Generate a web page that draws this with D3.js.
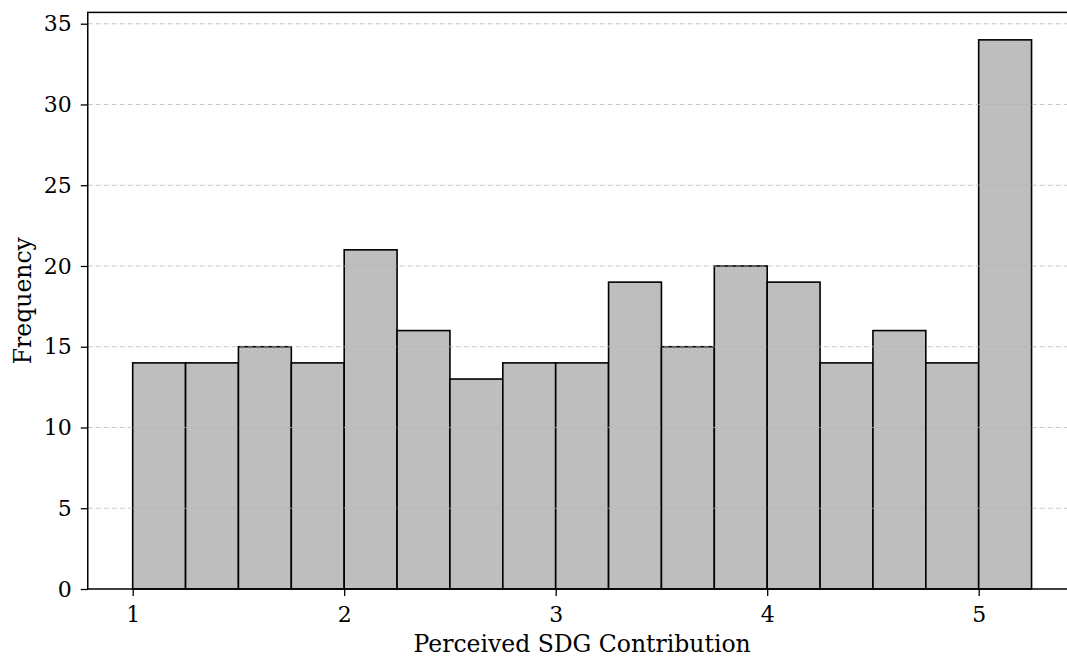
<!DOCTYPE html>
<html><head><meta charset="utf-8">
<script src="https://cdn.jsdelivr.net/npm/d3@7"></script>
<style>body{margin:0;background:#fff;} svg{display:block;}</style>
</head><body>
<svg id="c" width="1067" height="659"></svg>
<script>
const binStart = 1, binWidth = 0.25;
const counts = [14,14,15,14,21,16,13,14,14,19,15,20,19,14,16,14,34];
const xTicks = [1,2,3,4,5];
const yTicks = [0,5,10,15,20,25,30,35];
const xLabel = "Perceived SDG Contribution";
const yLabel = "Frequency";

const bins = counts.map((c,i)=>({x0: binStart + i*binWidth, x1: binStart + (i+1)*binWidth, n: c}));
const svg = d3.select("#c");
const L = 87.75, R = 1076.5, T = 12.4, B = 589;
const xMin = bins[0].x0, xMax = bins[bins.length-1].x1, pad = (xMax - xMin)*0.05;
const x = d3.scaleLinear().domain([xMin - pad, xMax + pad]).range([L, R]);
const yMax = d3.max(counts)*1.05;
const y = d3.scaleLinear().domain([0, yMax]).range([B, T]);
const font = "DejaVu Serif";

svg.append("g").selectAll("rect").data(bins).join("rect")
  .attr("x", d=>x(d.x0)).attr("width", d=>x(d.x1)-x(d.x0))
  .attr("y", d=>y(d.n)).attr("height", d=>y(0)-y(d.n))
  .attr("fill","#bebebe").attr("stroke","#000").attr("stroke-width",1.6);

// grid on top
svg.append("g").selectAll("line").data(yTicks.filter(v=>v>0)).join("line")
  .attr("x1",L).attr("x2",R).attr("y1",d=>y(d)).attr("y2",d=>y(d))
  .attr("stroke","#b0b0b0").attr("stroke-opacity",0.7).attr("stroke-width",1.1)
  .attr("stroke-dasharray","5,3");

const xa = svg.append("g").attr("transform",`translate(0,${B})`)
  .call(d3.axisBottom(x).tickValues(xTicks).tickFormat(d3.format("d")).tickSizeOuter(0).tickSize(7).tickPadding(10));
const ya = svg.append("g").attr("transform",`translate(${L},0)`)
  .call(d3.axisLeft(y).tickValues(yTicks).tickFormat(d3.format("d")).tickSizeOuter(0).tickSize(7).tickPadding(9));
[xa,ya].forEach(a=>{
  a.selectAll("text").attr("font-family",font).attr("font-size",22).attr("fill","#000");
  a.selectAll("line").attr("stroke","#000").attr("stroke-width",1.3);
  a.select(".domain").remove();
});
// spines
svg.append("rect").attr("x",L).attr("y",T).attr("width",R-L).attr("height",B-T)
  .attr("fill","none").attr("stroke","#000").attr("stroke-width",1.5);

svg.append("text").attr("x",(L+R)/2 - 0).attr("y",652).attr("text-anchor","middle")
  .attr("font-family",font).attr("font-size",23.5).text(xLabel);
svg.append("text").attr("transform",`translate(31,${(T+B)/2}) rotate(-90)`).attr("text-anchor","middle")
  .attr("font-family",font).attr("font-size",23.5).text(yLabel);
</script>
</body></html>
